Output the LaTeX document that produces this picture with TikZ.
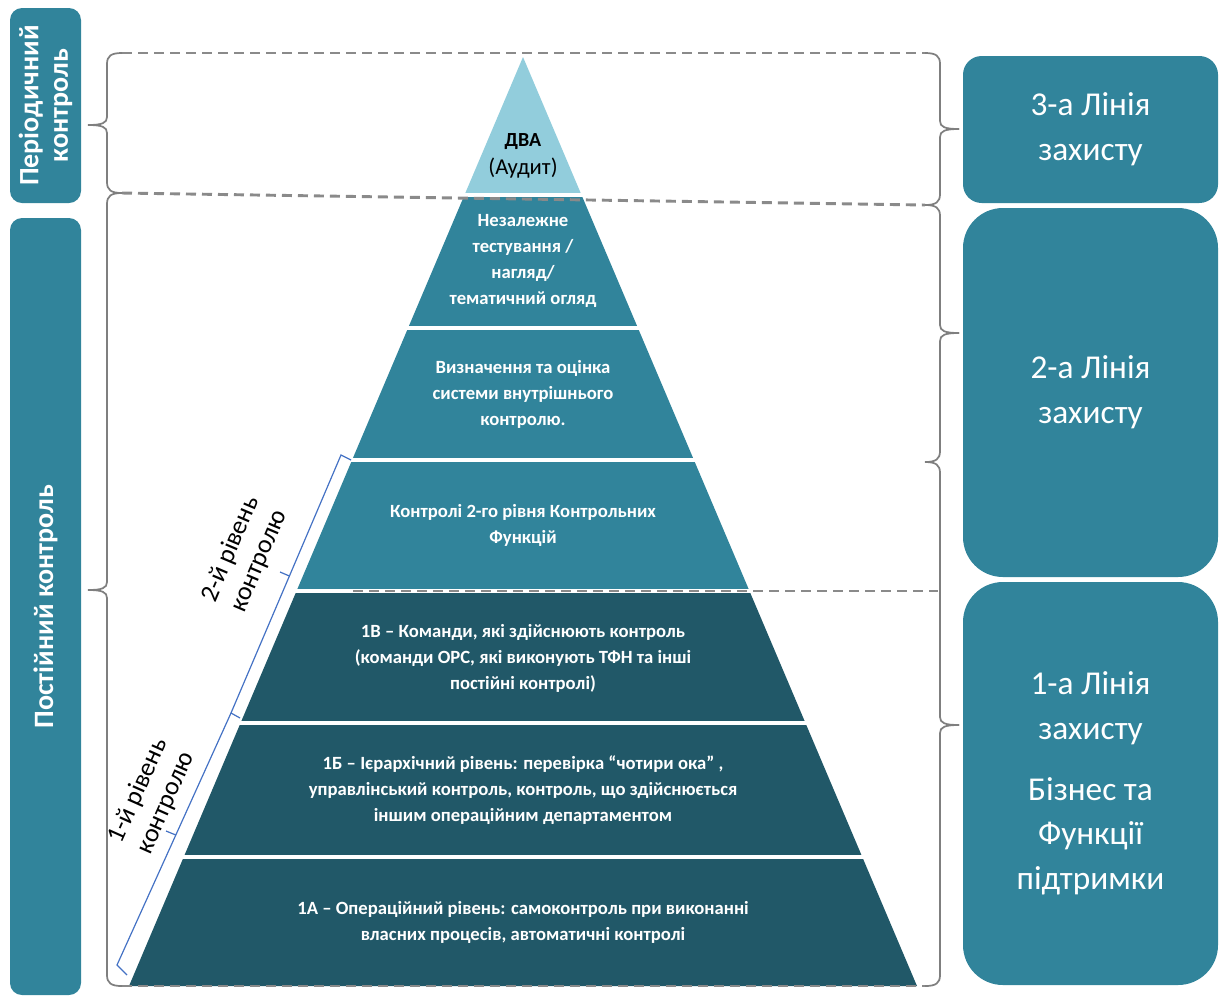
\documentclass[tikz,border=0pt]{standalone}
\usepackage{fontspec}
\setmainfont{Carlito}
\definecolor{boxTeal}{HTML}{31849B}
\definecolor{tierLight}{HTML}{92CDDC}
\definecolor{tierMid}{HTML}{31849B}
\definecolor{tierDark}{HTML}{215868}
\definecolor{guideGray}{HTML}{8A8A8A}
\definecolor{braceGray}{HTML}{7F7F7F}
\definecolor{levelBlue}{HTML}{4472C4}
% vertical curly brace: x, top, bottom, tip, side (+1 tip to the right, -1 tip to the left)
\newcommand{\curlybrace}[5]{%
  \draw[gbrace] ({#1-(#5)*15},#2) .. controls ({#1-(#5)*4},#2) and (#1,{#2+3}) .. (#1,{#2+11})
     -- (#1,{#4-8}) .. controls (#1,{#4-2}) and ({#1+(#5)*5},#4) .. ({#1+(#5)*19},#4);
  \draw[gbrace] ({#1-(#5)*15},#3) .. controls ({#1-(#5)*4},#3) and (#1,{#3-3}) .. (#1,{#3-11})
     -- (#1,{#4+8}) .. controls (#1,{#4+2}) and ({#1+(#5)*5},#4) .. ({#1+(#5)*19},#4);
}
\begin{document}
\begin{tikzpicture}[x=0.75pt,y=-0.75pt,
  tiertext/.style={text=white, align=center, font=\bfseries\fontsize{14}{19.5}\selectfont},
  sidebox/.style={fill=boxTeal, text=white, align=center, inner sep=0pt},
  linetext/.style={font=\fontsize{25}{33.5}\selectfont},
  ctrltext/.style={font=\bfseries\fontsize{21}{22}\selectfont},
  gbrace/.style={draw=braceGray, line width=1.3pt},
  guide/.style={draw=guideGray, line width=2.2pt, dash pattern=on 7.5pt off 4.5pt},
  levelbr/.style={draw=levelBlue, line width=0.9pt},
  levellabel/.style={align=center, font=\fontsize{19.5}{23}\selectfont}]
\useasboundingbox (0,0) rectangle (1219,997);

% control-type boxes on the left
\node[sidebox, ctrltext, rotate=90, rounded corners=9pt,
      minimum width=146.25pt, minimum height=53.25pt] (periodic) at (45.5,105.5)
      {Періодичний\\контроль};
\node[sidebox, ctrltext, rotate=90, rounded corners=9pt,
      minimum width=582.75pt, minimum height=53.25pt] (permanent) at (45.5,606.5)
      {Постійний контроль};

% lines of defence on the right
\node[sidebox, linetext, rounded corners=14pt,
      minimum width=191.25pt, minimum height=110.25pt] (line3) at (1090.5,129.5)
      {3-а Лінія\\захисту};
\node[sidebox, linetext, rounded corners=30pt,
      minimum width=191.25pt, minimum height=276.75pt] (line2) at (1090.5,392.5)
      {2-а Лінія\\захисту};
\node[sidebox, linetext, rounded corners=30pt,
      minimum width=191.25pt, minimum height=302.25pt] (line1) at (1090.5,783.5)
      {1-а Лінія\\захисту\\[12pt]Бізнес та\\Функції\\підтримки};

% pyramid tiers
\begin{scope}
  \clip (523,57) -- (917,986) -- (129,986) -- cycle;
  \fill[tierLight] (0,50) rectangle (1219,193);
  \fill[tierMid]   (0,197) rectangle (1219,326);
  \fill[tierMid]   (0,330) rectangle (1219,458);
  \fill[tierMid]   (0,462) rectangle (1219,589);
  \fill[tierDark]  (0,593) rectangle (1219,721);
  \fill[tierDark]  (0,725) rectangle (1219,855);
  \fill[tierDark]  (0,859) rectangle (1219,990);
\end{scope}

\node[align=center, font=\fontsize{15}{21}\selectfont] (audit) at (523,156)
  {\textbf{ДВА}\\{\fontsize{17}{21}\selectfont(Аудит)}};
\node[tiertext] (independent) at (523,261)
  {Незалежне\\тестування /\\нагляд/\\тематичний огляд};
\node[tiertext] (assessment) at (523,394)
  {Визначення та оцінка\\системи внутрішнього\\контролю.};
\node[tiertext] (secondlevel) at (523,525)
  {Контролі 2-го рівня Контрольних\\Функцій};
\node[tiertext] (tier1v) at (523,658)
  {1В – Команди, які здійснюють контроль\\(команди ОРС, які виконують ТФН та інші\\постійні контролі)};
\node[tiertext] (tier1b) at (523,790)
  {1Б – Ієрархічний рівень: перевірка “чотири ока” ,\\управлінський контроль, контроль, що здійснюється\\іншим операційним департаментом};
\node[tiertext] (tier1a) at (523,922)
  {1А – Операційний рівень: самоконтроль при виконанні\\власних процесів, автоматичні контролі};

% dashed boundaries between control zones
\draw[guide] (122,53) -- (925,53);
\draw[guide] (122,193) -- (925,205);
\draw[guide] (353,591) -- (938,591);
\draw[guide] (122,986) -- (925,986);

% braces
\curlybrace{107}{53}{193}{125}{-1}
\curlybrace{107}{193}{986}{590}{-1}
\curlybrace{940}{53}{205}{129}{1}
\curlybrace{940}{205}{462}{333}{1}
\curlybrace{940}{462}{986}{725}{1}

% level brackets along the pyramid side
\draw[levelbr] (351,460) -- (341,455) -- (231,713) -- (240,718);
\draw[levelbr] (289.4,576) -- (280,572);
\draw[levelbr] (231,713) -- (117,965) -- (127,975);
\draw[levelbr] (175.8,835) -- (166,831);

\node[levellabel, rotate=67] (level2) at (245,555) {2-й рівень\\контролю};
\node[levellabel, rotate=66] (level1) at (152,797) {1-й рівень\\контролю};
\end{tikzpicture}
\end{document}
